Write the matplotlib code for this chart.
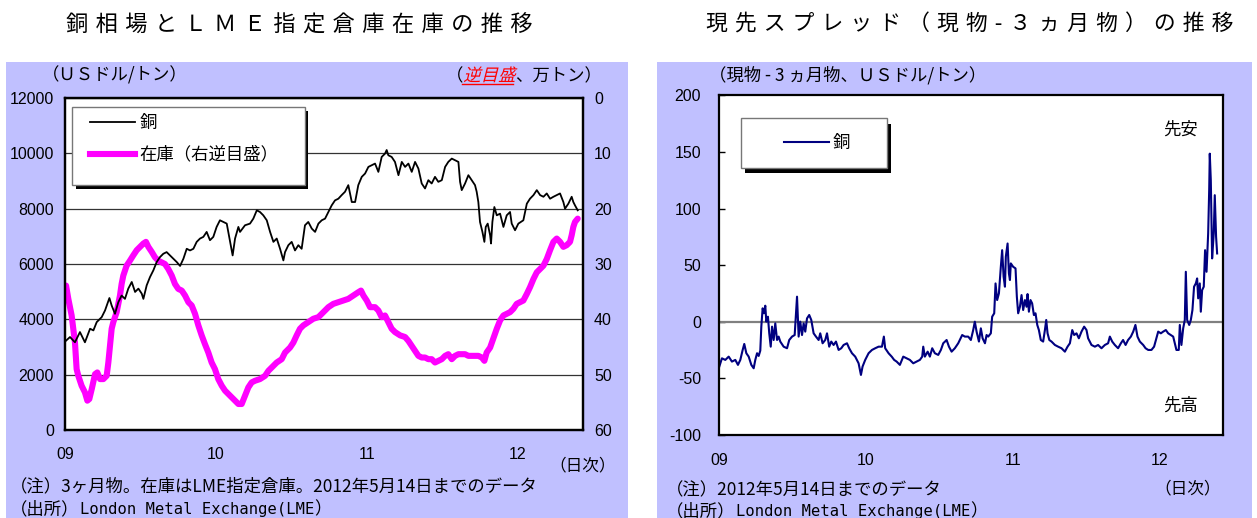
import matplotlib
matplotlib.use("Agg")
import matplotlib.pyplot as plt
from matplotlib.patches import Rectangle, PathPatch
from matplotlib.lines import Line2D
from matplotlib.textpath import TextPath
from matplotlib.font_manager import FontProperties
from matplotlib.transforms import Affine2D, IdentityTransform

plt.rcParams['font.family'] = ['Noto Sans CJK JP', 'DejaVu Sans']
plt.rcParams['axes.unicode_minus'] = False

# ---- data (x = years since 2009-01-01) ----
cu_yr = [0.007, 0.033, 0.066, 0.099, 0.132, 0.166, 0.188, 0.210, 0.243, 0.265,
         0.294, 0.309, 0.331, 0.353, 0.375, 0.397, 0.419, 0.442, 0.464, 0.486,
         0.508, 0.519, 0.541, 0.563, 0.585, 0.607, 0.629, 0.651, 0.673, 0.695,
         0.717, 0.740, 0.762, 0.784, 0.806, 0.828, 0.850, 0.872, 0.894, 0.916,
         0.938, 0.960, 0.982, 1.004, 1.026, 1.048, 1.071, 1.093, 1.110, 1.126,
         1.148, 1.159, 1.192, 1.225, 1.247, 1.270, 1.291, 1.313, 1.336, 1.358,
         1.380, 1.402, 1.424, 1.446, 1.457, 1.479, 1.501, 1.523, 1.545, 1.567,
         1.589, 1.611, 1.634, 1.656, 1.678, 1.700, 1.722, 1.744, 1.766, 1.788,
         1.810, 1.832, 1.854, 1.876, 1.899, 1.921, 1.942, 1.965, 1.987, 2.009,
         2.031, 2.053, 2.075, 2.097, 2.119, 2.130, 2.141, 2.163, 2.185, 2.208,
         2.230, 2.252, 2.274, 2.296, 2.318, 2.340, 2.362, 2.384, 2.406, 2.428,
         2.450, 2.472, 2.495, 2.517, 2.538, 2.561, 2.583, 2.605, 2.616, 2.627,
         2.649, 2.671, 2.693, 2.715, 2.726, 2.737, 2.748, 2.764, 2.777, 2.786,
         2.799, 2.815, 2.821, 2.830, 2.843, 2.859, 2.881, 2.903, 2.925, 2.947,
         2.958, 2.980, 3.002, 3.035, 3.058, 3.079, 3.102, 3.124, 3.146, 3.168,
         3.190, 3.212, 3.234, 3.256, 3.278, 3.300, 3.311, 3.333, 3.355, 3.366,
         3.377, 3.395]
cu_price = [3230, 3360, 3170, 3540, 3170, 3660, 3600, 3900, 4080, 4320,
            4770, 4500, 4200, 4620, 4860, 4740, 5110, 5350, 4990, 5110,
            4930, 4740, 5230, 5530, 5770, 6070, 6250, 6370, 6430, 6310,
            6190, 6070, 5930, 6190, 6550, 6490, 6550, 6800, 6920, 6980,
            7160, 6860, 6980, 7340, 7580, 7520, 7460, 6800, 6310, 6920,
            7340, 7160, 7400, 7460, 7640, 7940, 7880, 7760, 7580, 7160,
            6800, 6920, 6550, 6130, 6430, 6680, 6800, 6490, 6680, 6550,
            7400, 7520, 7280, 7160, 7460, 7580, 7640, 7880, 8120, 8300,
            8360, 8490, 8610, 8850, 8240, 8240, 8850, 9150, 9270, 9510,
            9570, 9630, 9330, 9870, 9990, 10120, 9930, 9870, 9690, 9210,
            9690, 9510, 9630, 9330, 9690, 9450, 8910, 8730, 9030, 8910,
            9150, 8970, 9030, 9510, 9690, 9810, 9750, 9690, 8970, 8670,
            8910, 9210, 9030, 8850, 8610, 8240, 7520, 7160, 6800, 7340,
            7460, 7040, 6740, 7520, 8060, 7760, 7820, 7340, 7760, 7880,
            7460, 7220, 7460, 7580, 8180, 8360, 8490, 8670, 8490, 8430,
            8550, 8360, 8430, 8490, 8550, 8240, 8000, 8180, 8430, 8240,
            8120, 7940]

stock_yr = [0.007, 0.022, 0.044, 0.066, 0.077, 0.088, 0.110, 0.132, 0.148, 0.161,
            0.177, 0.199, 0.214, 0.232, 0.254, 0.276, 0.287, 0.298, 0.309, 0.320,
            0.342, 0.364, 0.375, 0.386, 0.408, 0.430, 0.453, 0.475, 0.497, 0.519,
            0.536, 0.552, 0.574, 0.596, 0.618, 0.640, 0.662, 0.684, 0.707, 0.728,
            0.750, 0.773, 0.795, 0.817, 0.839, 0.861, 0.883, 0.905, 0.927, 0.949,
            0.971, 0.993, 1.015, 1.038, 1.060, 1.082, 1.104, 1.126, 1.148, 1.170,
            1.192, 1.214, 1.236, 1.258, 1.291, 1.325, 1.347, 1.369, 1.402, 1.435,
            1.457, 1.490, 1.512, 1.534, 1.556, 1.578, 1.611, 1.644, 1.678, 1.711,
            1.744, 1.777, 1.810, 1.843, 1.876, 1.909, 1.942, 1.960, 1.976, 1.998,
            2.020, 2.053, 2.075, 2.097, 2.119, 2.141, 2.163, 2.185, 2.219, 2.252,
            2.274, 2.296, 2.318, 2.340, 2.362, 2.384, 2.406, 2.428, 2.450, 2.472,
            2.495, 2.517, 2.538, 2.561, 2.583, 2.605, 2.627, 2.649, 2.671, 2.693,
            2.715, 2.737, 2.760, 2.777, 2.792, 2.815, 2.836, 2.859, 2.881, 2.903,
            2.925, 2.947, 2.969, 2.991, 3.013, 3.035, 3.058, 3.079, 3.102, 3.124,
            3.146, 3.168, 3.190, 3.212, 3.234, 3.256, 3.278, 3.300, 3.322, 3.344,
            3.355, 3.366, 3.377, 3.395]
stock_10kt = [33.9, 36.3, 39.3, 44.2, 49.0, 50.2, 52.0, 53.2, 54.7, 54.4,
              52.6, 49.9, 49.6, 50.8, 50.8, 50.2, 47.8, 44.8, 41.7, 40.5,
              38.7, 35.7, 33.6, 32.1, 30.3, 29.4, 28.4, 27.5, 26.9, 26.3,
              26.0, 26.9, 27.8, 28.8, 29.4, 29.7, 30.0, 30.9, 32.1, 33.6,
              34.5, 34.8, 35.7, 36.9, 37.5, 39.0, 41.1, 42.9, 44.5, 46.0,
              47.8, 49.0, 50.8, 52.0, 52.9, 53.5, 54.1, 54.7, 55.3, 55.3,
              53.8, 52.3, 51.4, 51.1, 50.8, 50.2, 49.3, 48.7, 47.8, 47.2,
              46.0, 45.1, 44.2, 42.9, 41.7, 41.1, 40.5, 39.9, 39.6, 38.7,
              37.8, 37.2, 36.9, 36.6, 36.3, 35.7, 35.1, 34.8, 35.7, 36.6,
              37.8, 37.8, 38.4, 39.6, 39.3, 40.5, 41.7, 42.3, 42.9, 43.2,
              43.9, 44.8, 45.7, 46.6, 46.9, 46.9, 47.2, 47.2, 47.8, 47.5,
              47.2, 46.6, 46.3, 47.2, 46.6, 46.3, 46.3, 46.3, 46.6, 46.6,
              46.6, 46.6, 46.9, 47.5, 46.0, 45.1, 43.5, 41.7, 40.2, 39.3,
              39.0, 38.7, 38.1, 37.2, 36.9, 36.6, 35.4, 34.2, 32.7, 31.5,
              30.9, 30.3, 29.1, 27.5, 26.0, 25.4, 26.0, 26.9, 26.6, 26.0,
              24.8, 23.3, 22.4, 21.8]

spr_yr = [0.002, 0.020, 0.043, 0.066, 0.088, 0.111, 0.129, 0.145, 0.161, 0.172,
          0.186, 0.202, 0.220, 0.236, 0.247, 0.259, 0.270, 0.281, 0.288, 0.297,
          0.306, 0.315, 0.322, 0.333, 0.342, 0.352, 0.361, 0.372, 0.383, 0.395,
          0.406, 0.417, 0.440, 0.463, 0.478, 0.497, 0.515, 0.531, 0.542, 0.553,
          0.565, 0.576, 0.587, 0.599, 0.614, 0.628, 0.644, 0.660, 0.678, 0.689,
          0.705, 0.723, 0.735, 0.750, 0.764, 0.780, 0.796, 0.814, 0.832, 0.848,
          0.871, 0.886, 0.905, 0.927, 0.950, 0.966, 0.977, 0.995, 1.018, 1.041,
          1.063, 1.086, 1.109, 1.122, 1.131, 1.154, 1.176, 1.192, 1.209, 1.231,
          1.254, 1.277, 1.299, 1.322, 1.345, 1.367, 1.383, 1.390, 1.401, 1.420,
          1.435, 1.451, 1.469, 1.492, 1.510, 1.526, 1.549, 1.565, 1.583, 1.605,
          1.628, 1.655, 1.673, 1.696, 1.714, 1.730, 1.741, 1.753, 1.769, 1.782,
          1.794, 1.810, 1.821, 1.832, 1.850, 1.859, 1.873, 1.882, 1.893, 1.905,
          1.918, 1.927, 1.937, 1.946, 1.952, 1.964, 1.973, 1.980, 1.986, 2.002,
          2.018, 2.027, 2.036, 2.048, 2.059, 2.070, 2.082, 2.093, 2.100, 2.109,
          2.120, 2.131, 2.143, 2.154, 2.166, 2.177, 2.190, 2.206, 2.218, 2.227,
          2.236, 2.248, 2.263, 2.286, 2.308, 2.331, 2.354, 2.372, 2.388, 2.404,
          2.417, 2.433, 2.449, 2.467, 2.485, 2.501, 2.512, 2.535, 2.558, 2.580,
          2.603, 2.626, 2.648, 2.660, 2.676, 2.694, 2.716, 2.735, 2.750, 2.767,
          2.784, 2.803, 2.819, 2.834, 2.848, 2.864, 2.887, 2.903, 2.921, 2.943,
          2.961, 2.977, 2.989, 3.007, 3.023, 3.041, 3.057, 3.075, 3.091, 3.102,
          3.113, 3.129, 3.136, 3.147, 3.159, 3.170, 3.177, 3.186, 3.200, 3.211,
          3.222, 3.233, 3.245, 3.254, 3.261, 3.272, 3.279, 3.288, 3.299, 3.308,
          3.318, 3.329, 3.336, 3.340, 3.347, 3.356, 3.367, 3.374, 3.383, 3.390]
spr_usd = [-39.7, -32.4, -33.8, -30.9, -35.3, -33.8, -38.2, -33.8, -25.0, -19.7,
           -27.9, -30.9, -38.2, -41.2, -33.8, -27.9, -30.3, -25.6, -4.4, 11.8,
           7.4, 14.1, 0.0, 4.4, -10.3, -22.1, -4.4, -16.2, -1.5, -16.2,
           -13.2, -17.6, -22.1, -23.5, -16.2, -13.2, -11.8, 22.1, -13.2, 0.0,
           -11.8, -1.5, -8.8, 2.9, 5.9, 1.5, -10.3, -13.2, -16.2, -10.3,
           -19.1, -16.2, -10.3, -22.1, -17.6, -20.6, -17.6, -25.0, -23.5, -20.6,
           -19.1, -23.5, -27.9, -30.9, -36.8, -47.1, -39.7, -33.8, -27.9, -25.0,
           -23.5, -22.1, -22.1, -13.2, -23.5, -27.9, -31.0, -33.8, -35.3, -38.2,
           -30.9, -32.4, -33.8, -36.8, -35.3, -33.8, -30.9, -22.1, -30.9, -26.5,
           -30.9, -23.5, -27.9, -29.4, -25.0, -19.1, -16.2, -22.1, -26.5, -23.5,
           -19.1, -11.8, -13.2, -13.2, -16.2, -7.4, 0.0, -8.8, -17.6, -5.9,
           -14.7, -19.1, -11.8, -13.2, -10.3, 4.4, 7.4, 33.8, 19.1, 25.0,
           48.5, 63.2, 39.7, 30.9, 57.4, 69.1, 42.6, 36.8, 51.5, 48.5,
           47.1, 22.1, 7.4, 13.2, 23.5, 10.3, 19.1, 13.2, 24.4, 8.8,
           19.1, 16.2, 5.9, 7.4, -2.9, -7.4, -16.2, -17.6, -7.4, 1.5,
           -10.3, -16.2, -17.6, -20.6, -22.1, -23.5, -26.5, -22.1, -19.1, -7.4,
           -11.8, -10.3, -14.7, -8.8, -4.4, -7.4, -14.7, -20.6, -22.1, -20.6,
           -23.5, -20.6, -19.1, -13.2, -17.6, -20.6, -23.5, -19.1, -16.2, -20.6,
           -16.2, -13.2, -8.8, -2.9, -13.2, -17.6, -20.6, -23.5, -25.0, -25.0,
           -22.1, -14.7, -8.8, -10.3, -8.8, -7.4, -10.3, -11.8, -13.2, -19.1,
           -25.0, -25.0, -2.9, -20.6, -5.9, 1.5, 44.1, 1.5, -2.9, 1.5,
           10.3, 30.9, 33.8, 38.2, 20.6, 33.8, 8.8, 27.9, 30.9, 63.2,
           44.1, 77.9, 116.2, 148.5, 125.0, 55.9, 77.9, 111.8, 75.0, 60.3]

year_ticks = [0, 1, 2, 3]
year_labels = ['09', '10', '11', '12']

W, H = 1257, 518
BG = '#C0C0FF'
FS = 12.5          # Japanese labels
FS_PX = FS * 100 / 72
TICK_FS = 11.5
TICK_FONT = 'Liberation Sans'
CJK = 'Noto Sans CJK JP'
MONO = ['DejaVu Sans Mono', CJK]


def fx(px):
    return px / W


def fy(py):
    return 1 - py / H


fig = plt.figure(figsize=(W / 100, H / 100), dpi=100)
renderer = fig.canvas.get_renderer()
for x0, x1 in [(6, 628), (657, 1252)]:
    fig.add_artist(Rectangle((fx(x0), 0), fx(x1) - fx(x0), fy(62),
                             transform=fig.transFigure, fc=BG, ec='none', zorder=0))


def spaced(s):
    return '\u2004'.join(s)


fig.text(fx(299), fy(25), spaced('銅相場とＬＭＥ指定倉庫在庫の推移'),
         ha='center', va='center', fontsize=16)
fig.text(fx(970), fy(25), spaced('現先スプレッド（現物-３ヵ月物）の推移'),
         ha='center', va='center', fontsize=15.7)


def put(s, x, yb, **kw):
    """place text with left/baseline at pixel (x, yb from top); return right edge px"""
    t = fig.text(fx(x), fy(yb), s, ha='left', va='baseline', **kw)
    return t.get_window_extent(renderer).x1


def style_ticks(ax):
    for lbl in ax.get_xticklabels() + ax.get_yticklabels():
        lbl.set_fontfamily(TICK_FONT)


# ---------------- left chart ----------------
ax2 = fig.add_axes([fx(65), fy(430), fx(583) - fx(65), fy(98) - fy(430)])
ax1 = ax2.twinx()
ax1.yaxis.tick_left()
ax2.yaxis.tick_right()
ax1.set_zorder(ax2.get_zorder() + 1)
ax1.patch.set_visible(False)
ax2.set_facecolor('white')

ax2.plot(stock_yr, stock_10kt, color='#FF00FF', lw=4.4, solid_capstyle='round')
ax1.plot(cu_yr, cu_price, color='black', lw=1.3)

ax1.set_xlim(0, 3.43)
ax1.set_ylim(0, 12000)
ax1.set_yticks(range(0, 12001, 2000))
ax2.set_ylim(60, 0)
ax2.set_yticks(range(0, 61, 10))
ax2.yaxis.grid(True, color='#333333', lw=0.9)
ax2.set_xticks(year_ticks)
ax2.set_xticklabels(year_labels)
ax1.tick_params(axis='y', length=0, pad=8, labelsize=TICK_FS)
ax2.tick_params(axis='y', length=0, pad=8, labelsize=TICK_FS)
ax2.tick_params(axis='x', length=0, pad=12, labelsize=TICK_FS)
style_ticks(ax1)
style_ticks(ax2)
for ax in (ax1, ax2):
    for sp in ax.spines.values():
        sp.set_linewidth(1.6)

# legend box with shadow
ax1.add_patch(Rectangle((0.021, 0.726), 0.449, 0.235, transform=ax1.transAxes,
                        fc='black', ec='none', zorder=5))
ax1.add_patch(Rectangle((0.0135, 0.738), 0.449, 0.235, transform=ax1.transAxes,
                        fc='white', ec='#777777', lw=1, zorder=6))
leg1 = ax1.legend([Line2D([], [], color='black', lw=1.3),
                   Line2D([], [], color='#FF00FF', lw=4.4)],
                  ['銅', '在庫（右逆目盛）'], loc='upper left',
                  bbox_to_anchor=(0.048, 0.952), frameon=False, fontsize=FS,
                  handlelength=2.6, handletextpad=0.25, labelspacing=0.8,
                  borderpad=0, borderaxespad=0)
leg1.set_zorder(7)

put('（ＵＳドル/トン）', 42, 81, fontsize=FS)

# "(逆目盛、万トン)" with red slanted underlined middle part
xr = put('（', 446, 81, fontsize=FS)
red_path = TextPath((0, 0), '逆目盛', size=FS_PX, prop=FontProperties(family=CJK))
fig.add_artist(PathPatch(red_path, transform=Affine2D().skew_deg(14, 0).translate(xr, H - 81),
                         fc='red', ec='none'))
fig.add_artist(Line2D([xr - 1, xr + 3 * FS_PX - 2], [H - 84, H - 84],
                      transform=IdentityTransform(), color='red', lw=1))
put('、万トン）', xr + 3 * FS_PX, 81, fontsize=FS)

fig.text(fx(583), fy(466), '（日次）', ha='center', va='center', fontsize=FS - 0.5)

put('（注）3ヶ月物。在庫はLME指定倉庫。2012年5月14日までのデータ', 10, 491, fontsize=FS)
xn = put('（出所）', 10, 514, fontsize=FS)
xn = put('London Metal Exchange(LME', xn, 514, fontsize=11.2, family=MONO)
put('）', xn, 514, fontsize=FS)

# ---------------- right chart ----------------
ax3 = fig.add_axes([fx(719), fy(434.8), fx(1223) - fx(719), fy(95.4) - fy(434.8)])
ax3.set_facecolor('white')
ax3.axhline(0, color='#808080', lw=1.6)
ax3.plot(spr_yr, spr_usd, color='#000080', lw=1.5)
ax3.set_xlim(0, 3.43)
ax3.set_ylim(-100, 200)
ax3.set_yticks(range(-100, 201, 50))
ax3.set_xticks(year_ticks)
ax3.set_xticklabels(year_labels)
ax3.tick_params(axis='y', direction='in', length=4, width=1, pad=13, labelsize=TICK_FS)
ax3.tick_params(axis='x', length=0, pad=13, labelsize=TICK_FS)
style_ticks(ax3)
for sp in ax3.spines.values():
    sp.set_linewidth(1.6)

ax3.add_patch(Rectangle((0.052, 0.770), 0.289, 0.147, transform=ax3.transAxes,
                        fc='black', ec='none', zorder=5))
ax3.add_patch(Rectangle((0.0437, 0.786), 0.289, 0.147, transform=ax3.transAxes,
                        fc='white', ec='#777777', lw=1, zorder=6))
leg3 = ax3.legend([Line2D([], [], color='#000080', lw=1.5)], ['銅'],
                  loc='center left', bbox_to_anchor=(0.128, 0.86), frameon=False,
                  fontsize=FS, handlelength=2.6, handletextpad=0.2,
                  borderpad=0, borderaxespad=0)
leg3.set_zorder(7)

ax3.text(0.915, 0.9, '先安', transform=ax3.transAxes, ha='center', va='center', fontsize=FS)
ax3.text(0.915, 0.085, '先高', transform=ax3.transAxes, ha='center', va='center', fontsize=FS)

put('（現物 - 3 ヵ月物、ＵＳドル/トン）', 709, 81, fontsize=FS)
put('（注）2012年5月14日までのデータ', 666, 495, fontsize=FS)
xn = put('（出所）', 666, 516, fontsize=FS)
xn = put('London Metal Exchange(LME', xn, 516, fontsize=11.2, family=MONO)
put('）', xn, 516, fontsize=FS)
fig.text(fx(1188), fy(489), '（日次）', ha='center', va='center', fontsize=FS - 0.5)

fig.savefig('out.png', dpi=100)
